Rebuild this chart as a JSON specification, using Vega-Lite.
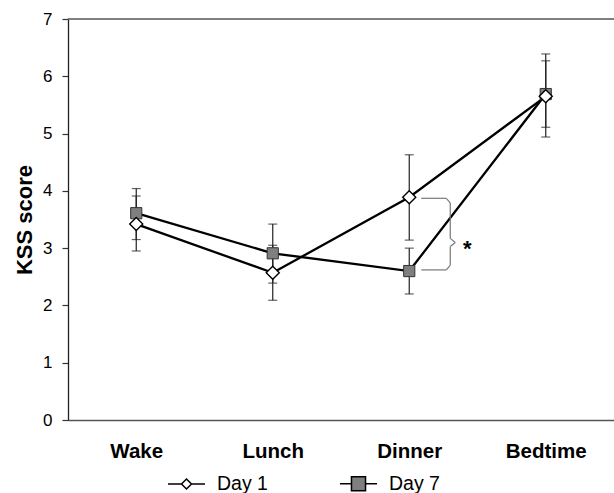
{
  "$schema": "https://vega.github.io/schema/vega-lite/v6.json",
  "autosize": "none",
  "width": 546,
  "height": 401,
  "padding": {"left": 68, "top": 19, "right": 0, "bottom": 73},
  "background": "white",
  "config": {
    "view": {"stroke": null},
    "font": "Liberation Sans",
    "axis": {"grid": false}
  },
  "data": {
    "values": [
      {"time": "Wake", "day": "Day 7", "kss": 3.61, "lo": 3.15, "hi": 4.04},
      {"time": "Lunch", "day": "Day 7", "kss": 2.91, "lo": 2.39, "hi": 3.42},
      {"time": "Dinner", "day": "Day 7", "kss": 2.6, "lo": 2.2, "hi": 3.0},
      {"time": "Bedtime", "day": "Day 7", "kss": 5.69, "lo": 5.11, "hi": 6.27},
      {"time": "Wake", "day": "Day 1", "kss": 3.42, "lo": 2.95, "hi": 3.91},
      {"time": "Lunch", "day": "Day 1", "kss": 2.57, "lo": 2.09, "hi": 3.05},
      {"time": "Dinner", "day": "Day 1", "kss": 3.89, "lo": 3.14, "hi": 4.63},
      {"time": "Bedtime", "day": "Day 1", "kss": 5.65, "lo": 4.94, "hi": 6.39}
    ]
  },
  "encoding": {
    "x": {
      "field": "time",
      "type": "ordinal",
      "sort": ["Wake", "Lunch", "Dinner", "Bedtime"],
      "scale": {"type": "point", "padding": 0.5},
      "axis": {
        "title": null,
        "labelAngle": 0,
        "labelFont": "Liberation Sans",
        "labelFontSize": 20.5,
        "labelFontWeight": "bold",
        "labelColor": "black",
        "labelPadding": 21,
        "ticks": false,
        "domainColor": "#555555",
        "domainWidth": 1.5
      }
    }
  },
  "layer": [
    {
      "mark": {"type": "rule", "color": "#555555", "strokeWidth": 1.5},
      "data": {"values": [{}]},
      "encoding": {"x": null, "y": {"datum": 7, "type": "quantitative", "scale": {"domain": [0, 7], "nice": false}}}
    },
    {
      "mark": {"type": "errorbar", "ticks": {"size": 9, "thickness": 1.2}, "rule": {"strokeWidth": 1.2}, "color": "#222222", "thickness": 1.2},
      "encoding": {
        "y": {
          "field": "lo",
          "type": "quantitative",
          "scale": {"domain": [0, 7], "nice": false},
          "title": "KSS score",
          "axis": {
            "title": "KSS score",
            "titleFont": "Liberation Sans",
            "titleFontSize": 22,
            "titleFontWeight": "bold",
            "titleColor": "black",
            "titlePadding": 6,
            "values": [0, 1, 2, 3, 4, 5, 6, 7],
            "format": "d",
            "labelFont": "Liberation Sans",
            "labelFontSize": 17,
            "labelColor": "black",
            "labelPadding": 10,
            "tickSize": 6,
            "tickColor": "#333333",
            "tickWidth": 1.2,
            "domainColor": "#222222",
            "domainWidth": 1.3
          }
        },
        "y2": {"field": "hi"}
      }
    },
    {
      "mark": {"type": "line", "color": "black", "strokeWidth": 2.3},
      "encoding": {
        "y": {"field": "kss", "type": "quantitative", "title": "KSS score"},
        "detail": {"field": "day"}
      }
    },
    {
      "transform": [{"filter": "datum.day === 'Day 7'"}],
      "mark": {"type": "point", "shape": "square", "size": 125, "filled": true, "fill": "#7f7f7f", "stroke": "#333333", "strokeWidth": 1, "opacity": 1},
      "encoding": {"y": {"field": "kss", "type": "quantitative", "title": "KSS score"}}
    },
    {
      "transform": [{"filter": "datum.day === 'Day 1'"}],
      "mark": {"type": "point", "shape": "diamond", "size": 170, "filled": true, "fill": "white", "stroke": "black", "strokeWidth": 1.4, "opacity": 1},
      "encoding": {"y": {"field": "kss", "type": "quantitative", "title": "KSS score"}}
    },
    {
      "mark": {"type": "point", "filled": true, "size": 0, "stroke": "black", "strokeWidth": 1.5},
      "encoding": {
        "y": {"field": "kss", "type": "quantitative", "title": "KSS score"},
        "shape": {
          "field": "day",
          "type": "nominal",
          "scale": {
            "domain": ["Day 1", "Day 7"],
            "range": [
              "M-1,0L-0.27,0M0.27,0L1,0M-0.27,0L0,-0.27L0.27,0L0,0.27Z",
              "M-1,0L-0.38,0M0.38,0L1,0M-0.38,-0.38L0.38,-0.38L0.38,0.38L-0.38,0.38Z"
            ]
          },
          "legend": {
            "title": null,
            "orient": "none",
            "legendX": 99,
            "legendY": 445,
            "direction": "horizontal",
            "columns": 2,
            "columnPadding": 69,
            "symbolSize": 1369,
            "symbolOpacity": 1,
            "symbolStrokeColor": "black",
            "symbolStrokeWidth": 1.5,
            "labelFont": "Liberation Sans",
            "labelFontSize": 19.5,
            "labelColor": "black",
            "labelOffset": 11,
            "padding": 0,
            "encode": {
              "symbols": {
                "update": {
                  "size": {"value": 1369},
                  "stroke": {"value": "black"},
                  "strokeWidth": {"value": 1.5},
                  "strokeOpacity": {"value": 1},
                  "opacity": {"value": 1}
                }
              }
            }
          }
        },
        "fill": {
          "field": "day",
          "type": "nominal",
          "scale": {"domain": ["Day 1", "Day 7"], "range": ["white", "#7f7f7f"]},
          "legend": {
            "title": null,
            "orient": "none",
            "legendX": 99,
            "legendY": 445,
            "direction": "horizontal",
            "columns": 2,
            "columnPadding": 69,
            "symbolSize": 1369,
            "symbolOpacity": 1,
            "symbolStrokeColor": "black",
            "symbolStrokeWidth": 1.5,
            "labelFont": "Liberation Sans",
            "labelFontSize": 19.5,
            "labelColor": "black",
            "labelOffset": 11,
            "padding": 0,
            "encode": {
              "symbols": {
                "update": {
                  "size": {"value": 1369},
                  "stroke": {"value": "black"},
                  "strokeWidth": {"value": 1.5},
                  "strokeOpacity": {"value": 1},
                  "opacity": {"value": 1}
                }
              }
            }
          }
        }
      }
    },
    {
      "data": {"values": [{}]},
      "mark": {"type": "rule", "color": "#777777", "strokeWidth": 1.2, "xOffset": 12, "x2Offset": 37},
      "encoding": {"x": {"datum": "Dinner"}, "x2": {"datum": "Dinner"}, "y": {"datum": 3.87, "type": "quantitative"}, "y2": {"datum": 3.87}}
    },
    {
      "data": {"values": [{}]},
      "mark": {"type": "rule", "color": "#777777", "strokeWidth": 1.2, "xOffset": 37, "x2Offset": 41},
      "encoding": {"x": {"datum": "Dinner"}, "x2": {"datum": "Dinner"}, "y": {"datum": 3.87, "type": "quantitative"}, "y2": {"datum": 3.79}}
    },
    {
      "data": {"values": [{}]},
      "mark": {"type": "rule", "color": "#777777", "strokeWidth": 1.2, "xOffset": 41, "x2Offset": 41},
      "encoding": {"x": {"datum": "Dinner"}, "x2": {"datum": "Dinner"}, "y": {"datum": 3.79, "type": "quantitative"}, "y2": {"datum": 3.17}}
    },
    {
      "data": {"values": [{}]},
      "mark": {"type": "rule", "color": "#777777", "strokeWidth": 1.2, "xOffset": 41, "x2Offset": 46},
      "encoding": {"x": {"datum": "Dinner"}, "x2": {"datum": "Dinner"}, "y": {"datum": 3.17, "type": "quantitative"}, "y2": {"datum": 3.1}}
    },
    {
      "data": {"values": [{}]},
      "mark": {"type": "rule", "color": "#777777", "strokeWidth": 1.2, "xOffset": 46, "x2Offset": 41},
      "encoding": {"x": {"datum": "Dinner"}, "x2": {"datum": "Dinner"}, "y": {"datum": 3.1, "type": "quantitative"}, "y2": {"datum": 3.03}}
    },
    {
      "data": {"values": [{}]},
      "mark": {"type": "rule", "color": "#777777", "strokeWidth": 1.2, "xOffset": 41, "x2Offset": 41},
      "encoding": {"x": {"datum": "Dinner"}, "x2": {"datum": "Dinner"}, "y": {"datum": 3.03, "type": "quantitative"}, "y2": {"datum": 2.7}}
    },
    {
      "data": {"values": [{}]},
      "mark": {"type": "rule", "color": "#777777", "strokeWidth": 1.2, "xOffset": 41, "x2Offset": 37},
      "encoding": {"x": {"datum": "Dinner"}, "x2": {"datum": "Dinner"}, "y": {"datum": 2.7, "type": "quantitative"}, "y2": {"datum": 2.62}}
    },
    {
      "data": {"values": [{}]},
      "mark": {"type": "rule", "color": "#777777", "strokeWidth": 1.2, "xOffset": 37, "x2Offset": 12},
      "encoding": {"x": {"datum": "Dinner"}, "x2": {"datum": "Dinner"}, "y": {"datum": 2.62, "type": "quantitative"}, "y2": {"datum": 2.62}}
    },
    {
      "data": {"values": [{"label": "*"}]},
      "mark": {"type": "text", "font": "Liberation Sans", "fontSize": 22, "fontWeight": "bold", "color": "black", "baseline": "alphabetic", "dx": 58, "dy": 13},
      "encoding": {"x": {"datum": "Dinner"}, "y": {"datum": 3.09, "type": "quantitative"}, "text": {"field": "label"}}
    }
  ]
}
